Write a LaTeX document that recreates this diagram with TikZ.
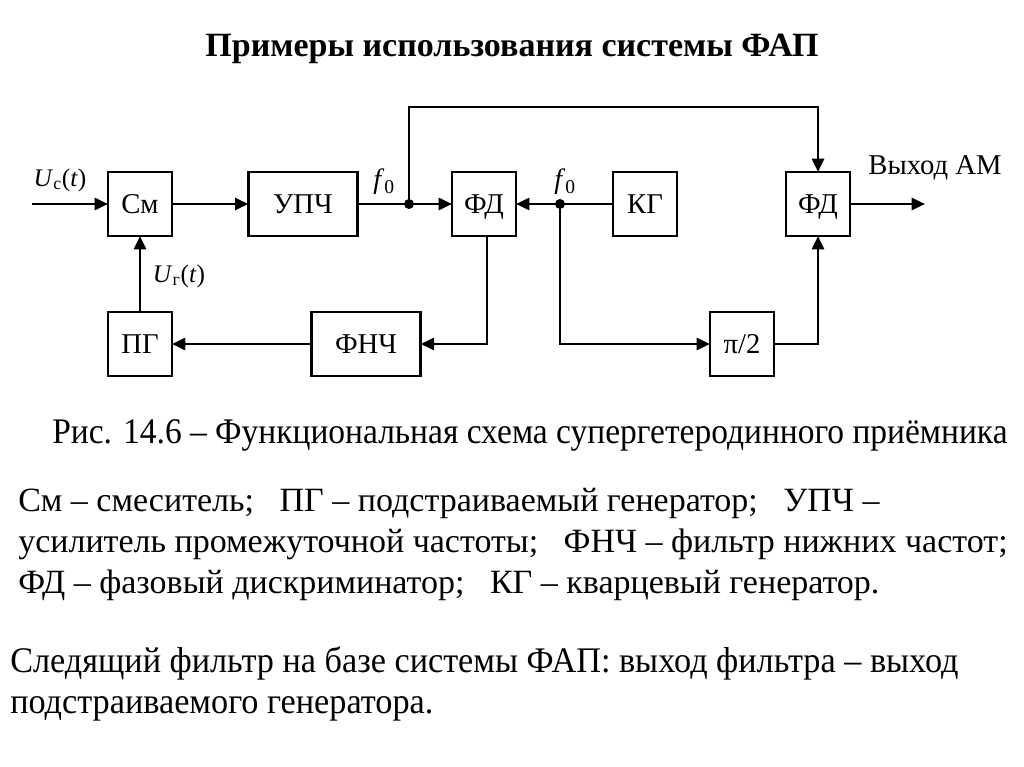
\documentclass[tikz,border=0pt]{standalone}
\usepackage{fontspec}
\setmainfont{LiberationSerif}[Extension=.ttf,UprightFont=*-Regular,BoldFont=*-Bold,ItalicFont=*-Italic,BoldItalicFont=*-BoldItalic]
\usetikzlibrary{arrows.meta}
\begin{document}
\begin{tikzpicture}[x=0.75pt,y=-0.75pt,
  blk/.style={draw,line width=2pt,minimum width=48pt,minimum height=48pt,inner sep=0pt,outer sep=0pt,text height=14pt,text depth=0pt,font=\fontsize{21.5}{22}\selectfont},
  arr/.style={line width=2pt,-{Triangle[length=10pt,width=9pt]}},
  dot/.style={circle,fill,inner sep=0pt,minimum size=7.5pt},
  lbl/.style={font=\fontsize{19}{21}\selectfont,inner sep=0pt}]
\useasboundingbox (0,0) rectangle (1024,767);
% title
\node[anchor=base,font=\fontsize{25.5}{30}\selectfont\bfseries] (title) at (512,57) {Примеры использования системы ФАП};
% blocks
\node[blk] (sm) at (140,204) {См};
\node[blk,minimum width=82pt] (upc) at (303,204) {УПЧ};
\node[blk] (fd1) at (484,204) {ФД};
\node[blk] (kg) at (645,204) {КГ};
\node[blk] (fd2) at (818,204) {ФД};
\node[blk] (pg) at (140,344) {ПГ};
\node[blk,minimum width=82pt] (fnc) at (366,344) {ФНЧ};
\node[blk] (pi2) at (742,344) {π/2};
% coordinates
\coordinate (in) at (32,204);
\coordinate (out) at (925,204);
\node[dot] (d1) at (409,204) {};
\node[dot] (d2) at (560,204) {};
% connectors
\draw[arr] (in) -- (sm.west);
\draw[arr] (sm.east) -- (upc.west);
\draw[arr] (upc.east) -- (fd1.west);
\draw[arr] (d1.center) -- ++(0,-97) -| (fd2.north);
\draw[arr] (kg.west) -- (fd1.east);
\draw[arr] (d2.center) |- (pi2.west);
\draw[arr] (pi2.east) -| (fd2.south);
\draw[arr] (fd2.east) -- (out);
\draw[arr] ([xshift=2.25pt]fd1.south) |- (fnc.east);
\draw[arr] (fnc.west) -- (pg.east);
\draw[arr] (pg.north) -- (sm.south);
% labels
\node[lbl] (luc) at (60,180) {\textit{U}\textsubscript{с}(\textit{t})};
\node[lbl,font=\fontsize{21}{23}\selectfont] (lf1) at (384,182) {\textit{f}\textsubscript{0}};
\node[lbl,font=\fontsize{21}{23}\selectfont] (lf2) at (565,182) {\textit{f}\textsubscript{0}};
\node[lbl] (lug) at (179,276) {\textit{U}\textsubscript{г}(\textit{t})};
\node[lbl,font=\fontsize{21.5}{23}\selectfont] (lout) at (935,168) {Выход АМ};
% caption
\node[anchor=base west,inner sep=0pt,font=\fontsize{27}{30}\selectfont] (cap) at (52,443) {\scalebox{0.93}[1]{Рис. 14.6 – Функциональная схема супергетеродинного приёмника}};
% legend
\node[anchor=base west,inner sep=0pt,font=\fontsize{25.5}{30}\selectfont] (l1) at (18,511) {См – смеситель;\ \ \ ПГ – подстраиваемый генератор;\ \ \ УПЧ –};
\node[anchor=base west,inner sep=0pt,font=\fontsize{25.5}{30}\selectfont] (l2) at (18,552) {усилитель промежуточной частоты;\ \ \ ФНЧ – фильтр нижних частот;};
\node[anchor=base west,inner sep=0pt,font=\fontsize{25.5}{30}\selectfont] (l3) at (18,593) {ФД – фазовый дискриминатор;\ \ \ КГ – кварцевый генератор.};
\node[anchor=base west,inner sep=0pt,font=\fontsize{27}{30}\selectfont] (p1) at (10,672) {\scalebox{0.951}[1]{Следящий фильтр на базе системы ФАП: выход фильтра – выход}};
\node[anchor=base west,inner sep=0pt,font=\fontsize{27}{30}\selectfont] (p2) at (10,713) {\scalebox{0.951}[1]{подстраиваемого генератора.}};
\end{tikzpicture}
\end{document}
